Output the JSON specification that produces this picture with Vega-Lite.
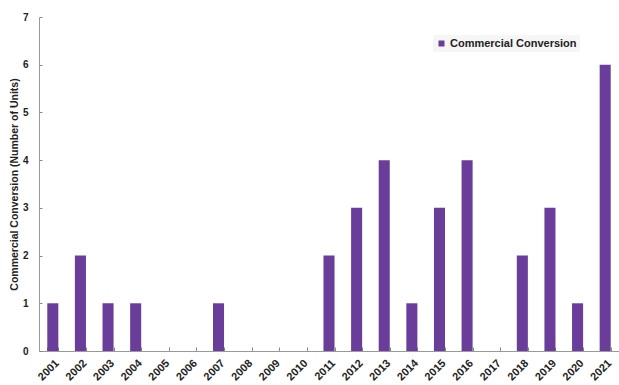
{
  "$schema": "https://vega.github.io/schema/vega-lite/v6.json",
  "width": 580,
  "height": 334,
  "autosize": "none",
  "padding": {"left": 39, "top": 17, "right": 0, "bottom": 34},
  "background": "white",
  "config": {"view": {"stroke": null}, "font": "Liberation Sans"},
  "data": {"values": [
    {"year": "2001", "units": 1, "series": "Commercial Conversion"},
    {"year": "2002", "units": 2, "series": "Commercial Conversion"},
    {"year": "2003", "units": 1, "series": "Commercial Conversion"},
    {"year": "2004", "units": 1, "series": "Commercial Conversion"},
    {"year": "2005", "units": 0, "series": "Commercial Conversion"},
    {"year": "2006", "units": 0, "series": "Commercial Conversion"},
    {"year": "2007", "units": 1, "series": "Commercial Conversion"},
    {"year": "2008", "units": 0, "series": "Commercial Conversion"},
    {"year": "2009", "units": 0, "series": "Commercial Conversion"},
    {"year": "2010", "units": 0, "series": "Commercial Conversion"},
    {"year": "2011", "units": 2, "series": "Commercial Conversion"},
    {"year": "2012", "units": 3, "series": "Commercial Conversion"},
    {"year": "2013", "units": 4, "series": "Commercial Conversion"},
    {"year": "2014", "units": 1, "series": "Commercial Conversion"},
    {"year": "2015", "units": 3, "series": "Commercial Conversion"},
    {"year": "2016", "units": 4, "series": "Commercial Conversion"},
    {"year": "2017", "units": 0, "series": "Commercial Conversion"},
    {"year": "2018", "units": 2, "series": "Commercial Conversion"},
    {"year": "2019", "units": 3, "series": "Commercial Conversion"},
    {"year": "2020", "units": 1, "series": "Commercial Conversion"},
    {"year": "2021", "units": 6, "series": "Commercial Conversion"}
  ]},
  "mark": {"type": "bar"},
  "encoding": {
    "x": {
      "field": "year", "type": "ordinal",
      "scale": {"paddingInner": 0.6, "paddingOuter": 0.3},
      "axis": {
        "title": null, "labelAngle": -45, "labelFontSize": 11, "labelFontWeight": "bold",
        "labelColor": "#222", "tickBand": "extent", "tickColor": "#888", "tickSize": -4,
        "domainColor": "#999", "labelPadding": 10, "labelAlign": "right", "labelBaseline": "top"
      }
    },
    "y": {
      "field": "units", "type": "quantitative",
      "scale": {"domain": [0, 7], "nice": false},
      "axis": {
        "title": "Commercial Conversion (Number of Units)", "titleFontSize": 10.5, "titleFontWeight": "bold",
        "titleColor": "#222", "titlePadding": 3, "values": [0, 1, 2, 3, 4, 5, 6, 7], "grid": false,
        "labelFontSize": 10, "labelFontWeight": "bold", "labelColor": "#222",
        "tickSize": -3, "tickColor": "#888", "labelPadding": 14, "domainColor": "#999"
      }
    },
    "color": {
      "field": "series", "type": "nominal",
      "scale": {"range": ["#6a3d9a"]},
      "legend": {
        "title": null, "orient": "none", "legendX": 394, "legendY": 18,
        "symbolType": "square", "symbolSize": 36, "labelFontSize": 11, "labelFontWeight": "bold",
        "labelColor": "#222", "labelOffset": 3, "fillColor": "#f6f6f6", "padding": 3
      }
    }
  }
}
